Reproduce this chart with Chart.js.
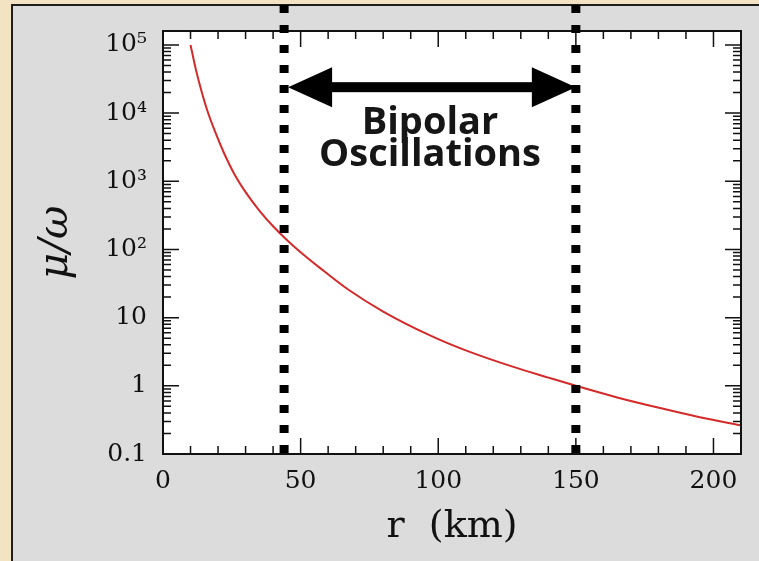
<!DOCTYPE html>
<html lang="en">
<head>
<meta charset="UTF-8">
<title>mu/omega vs r</title>
<script src="https://cdn.jsdelivr.net/npm/chart.js"></script>
<style>
  html, body { margin:0; padding:0; overflow:hidden; }
  body { width:759px; height:561px; background:#f3e3c3; position:relative; }
  .panel { position:absolute; left:11px; top:4px; right:0; bottom:0; background:#dcdcdc;
           border-left:2px solid #1e1e1e; border-top:2px solid #1e1e1e; }
  #chart { position:absolute; left:0; top:0; }
</style>
</head>
<body>
<div class="panel"></div>
<canvas id="chart" width="759" height="561"></canvas>
<script>
// r (km) and mu/omega
const radius = [10, 12, 14, 16, 19, 22, 26, 30, 35, 40, 45, 50, 57, 67, 80, 97, 110, 127, 140, 150, 165, 181, 195, 210];
const muOverOmega = [100000, 42660, 20890, 11220, 5250, 2690, 1259, 692, 372, 219, 138, 91.2, 53.7, 26.3, 12.3, 5.5, 3.31, 1.91, 1.32, 1.0, 0.676, 0.468, 0.347, 0.263];

const xTicks = [0, 50, 100, 150, 200];
const yTicks = [0.1, 1, 10, 100, 1000, 10000, 100000];
const yTickLabels = ['0.1', '1', '10', '10²', '10³', '10⁴', '10⁵'];

const markers = [44, 150];        // dotted verticals (km)
const arrowAt = 24000;            // level of the double arrow
const note = ['Bipolar', 'Oscillations'];
const noteAt = [97, 5000, 1660];  // r, then mu/omega baseline of each line

const X_MAX = 210, Y_MIN = 0.1, Y_MAX = 160000;

const decor = {
  id: 'decor',
  beforeDraw(chart) {
    const {ctx, chartArea: a} = chart;
    ctx.save();
    ctx.fillStyle = '#fff';
    ctx.fillRect(a.left, a.top, a.right - a.left, a.bottom - a.top);
    ctx.restore();
  },
  afterDatasetsDraw(chart) {
    const {ctx, chartArea: a} = chart;
    const xs = chart.scales.x, ys = chart.scales.y;
    ctx.save();

    // frame + inward ticks
    ctx.strokeStyle = '#111';
    ctx.lineWidth = 2;
    ctx.strokeRect(a.left, a.top, a.right - a.left, a.bottom - a.top);
    ctx.lineWidth = 1.5;
    ctx.beginPath();
    for (let v = 10; v < X_MAX; v += 10) {
      const px = xs.getPixelForValue(v);
      const len = v % 50 === 0 ? 16 : 8;
      ctx.moveTo(px, a.bottom); ctx.lineTo(px, a.bottom - len);
      ctx.moveTo(px, a.top); ctx.lineTo(px, a.top + len);
    }
    for (let n = -1; n <= 5; n++) {
      for (let k = 1; k <= 9; k++) {
        const v = k * Math.pow(10, n);
        if (v <= Y_MIN || v > Y_MAX) continue;
        const py = ys.getPixelForValue(v);
        const len = k === 1 ? 16 : 8;
        ctx.moveTo(a.left, py); ctx.lineTo(a.left + len, py);
        ctx.moveTo(a.right, py); ctx.lineTo(a.right - len, py);
      }
    }
    ctx.stroke();

    // dotted verticals
    ctx.strokeStyle = '#000';
    ctx.lineWidth = 9;
    ctx.lineCap = 'butt';
    ctx.setLineDash([8, 12]);
    markers.forEach(m => {
      const px = xs.getPixelForValue(m);
      ctx.beginPath();
      ctx.moveTo(px, -15);
      ctx.lineTo(px, a.bottom);
      ctx.stroke();
    });
    ctx.setLineDash([]);

    // double arrow
    const y = ys.getPixelForValue(arrowAt);
    const x1 = xs.getPixelForValue(markers[0]) + 4;
    const x2 = xs.getPixelForValue(markers[1]);
    const head = 44, half = 20;
    ctx.fillStyle = '#000';
    ctx.fillRect(x1 + head - 2, y - 5, (x2 - x1) - 2 * head + 4, 10);
    ctx.beginPath();
    ctx.moveTo(x1, y); ctx.lineTo(x1 + head, y - half); ctx.lineTo(x1 + head, y + half); ctx.closePath();
    ctx.moveTo(x2, y); ctx.lineTo(x2 - head, y - half); ctx.lineTo(x2 - head, y + half); ctx.closePath();
    ctx.fill();

    // label
    ctx.fillStyle = '#161616';
    ctx.font = 'bold 38px "Open Sans"';
    ctx.textAlign = 'center';
    ctx.textBaseline = 'alphabetic';
    const tx = xs.getPixelForValue(noteAt[0]);
    note.forEach((t, i) => ctx.fillText(t, tx, ys.getPixelForValue(noteAt[i + 1])));
    ctx.restore();
  }
};

new Chart('chart', {
  type: 'line',
  data: {
    datasets: [{
      data: radius.map((r, i) => ({x: r, y: muOverOmega[i]})),
      borderColor: '#d42a2a',
      borderWidth: 2,
      pointRadius: 0,
      cubicInterpolationMode: 'monotone',
      fill: false
    }]
  },
  options: {
    responsive: false,
    animation: false,
    layout: { padding: { left: 0, top: 29, right: 18, bottom: 0 } },
    plugins: { legend: { display: false }, tooltip: { enabled: false } },
    scales: {
      x: {
        type: 'linear', min: 0, max: X_MAX,
        afterBuildTicks: s => { s.ticks = xTicks.map(v => ({value: v})); },
        afterFit: s => { s.height = 107; },
        grid: { display: false, drawTicks: false },
        border: { display: false },
        ticks: { padding: 12, maxRotation: 0, autoSkip: false, color: '#111',
                 font: { family: '"DejaVu Serif"', size: 25 } },
        title: { display: true, text: 'r  (km)', color: '#111', padding: { top: 0, bottom: 11 },
                 font: { family: '"DejaVu Serif"', size: 38 } }
      },
      y: {
        type: 'logarithmic', min: Y_MIN, max: Y_MAX,
        afterBuildTicks: s => { s.ticks = yTicks.map(v => ({value: v})); },
        afterFit: s => { s.width = 163; },
        grid: { display: false, drawTicks: false },
        border: { display: false },
        ticks: { padding: 16, autoSkip: false, color: '#111',
                 callback: v => yTickLabels[yTicks.indexOf(v)] ?? '',
                 font: { family: '"DejaVu Serif"', size: 25 } },
        title: { display: true, text: 'μ/ω', color: '#111', padding: { top: 32, bottom: 0 },
                 font: { family: '"DejaVu Serif"', size: 41, style: 'italic' } }
      }
    }
  },
  plugins: [decor]
});
</script>
</body>
</html>
